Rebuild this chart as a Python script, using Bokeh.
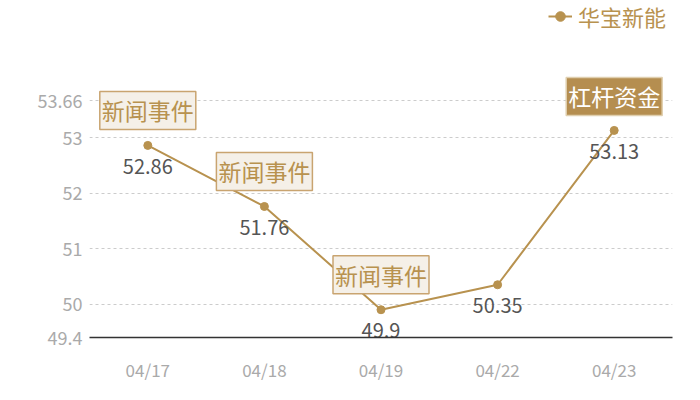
from bokeh.plotting import figure
from bokeh.models import (ColumnDataSource, FactorRange, Range1d, FixedTicker,
                          Legend, LegendItem)
from bokeh.core.properties import value
from bokeh.embed import file_html
from bokeh.resources import INLINE

dates = ["04/17", "04/18", "04/19", "04/22", "04/23"]
prices = [52.86, 51.76, 49.9, 50.35, 53.13]
series_name = "华宝新能"
y_ticks = [49.4, 50, 51, 52, 53, 53.66]
news_idx = [0, 1, 2]
news_label = "新闻事件"
lever_idx = [4]
lever_label = "杠杆资金"

GOLD = "#b8924f"
FONT = "Noto Sans CJK SC"

# the frame extends above the top tick so the legend and boxes are not clipped
y_top = 55.47

p = figure(width=692, height=392, x_range=FactorRange(*dates),
           y_range=Range1d(y_ticks[0], y_top),
           output_backend="svg", toolbar_location=None,
           min_border_left=89, min_border_right=20, min_border_top=0,
           min_border_bottom=55)
p.outline_line_color = None
p.background_fill_color = "white"
p.border_fill_color = "white"

src = ColumnDataSource(dict(x=dates, y=prices, lbl=[str(v) for v in prices]))
ln = p.line("x", "y", source=src, line_color=GOLD, line_width=2)
pts = p.scatter("x", "y", source=src, size=8, fill_color=GOLD, line_color=GOLD)

p.text("x", "y", text="lbl", source=src, y_offset=21, text_align="center",
       text_baseline="middle", text_font=value(FONT), text_font_size="20px",
       text_color="#555555")

news_src = ColumnDataSource(dict(x=[dates[i] for i in news_idx],
                                 y=[prices[i] for i in news_idx],
                                 t=[news_label] * len(news_idx)))
p.text("x", "y", text="t", source=news_src, y_offset=-35, text_align="center",
       text_baseline="middle", text_font=value(FONT), text_font_size="23px",
       text_color=GOLD, background_fill_color="#f5f0e8",
       border_line_color="#c9a470", border_line_width=1.5, padding=2)

lev_src = ColumnDataSource(dict(x=[dates[i] for i in lever_idx],
                                y=[prices[i] for i in lever_idx],
                                t=[lever_label] * len(lever_idx)))
p.text("x", "y", text="t", source=lev_src, y_offset=-34, text_align="center",
       text_baseline="middle", text_font=value(FONT), text_font_size="23px",
       text_color="white", background_fill_color="#b58e50",
       border_line_color="#e0cfae", border_line_width=1.5, padding=2)

for ax in (p.xaxis, p.yaxis):
    ax.major_tick_line_color = None
    ax.minor_tick_line_color = None
    ax.major_tick_out = 0
    ax.major_tick_in = 0
    ax.major_label_text_color = "#aaaaaa"
    ax.major_label_text_font = FONT

p.yaxis.ticker = FixedTicker(ticks=y_ticks)
p.yaxis.axis_line_color = None
p.yaxis.major_label_standoff = 7
p.yaxis.major_label_text_font_size = "18px"

p.xaxis.axis_line_color = "#333333"
p.xaxis.axis_line_width = 1.5
p.xaxis.major_label_standoff = 19
p.xaxis.major_label_text_font_size = "17px"

p.xgrid.grid_line_color = None
p.ygrid.ticker = FixedTicker(ticks=y_ticks[1:])
p.ygrid.grid_line_color = "#cccccc"
p.ygrid.grid_line_dash = "3 3"
p.ygrid.grid_line_width = 1

legend = Legend(items=[LegendItem(label=series_name, renderers=[ln, pts])],
                location=(459, 305), orientation="horizontal",
                label_text_font=FONT, label_text_font_size="22px",
                label_text_color=GOLD, border_line_color=None,
                background_fill_color=None, background_fill_alpha=0,
                glyph_width=24, glyph_height=24,
                label_standoff=6, padding=0, margin=0, spacing=0)
p.add_layout(legend)

open("out.html", "w").write(file_html(p, INLINE))
